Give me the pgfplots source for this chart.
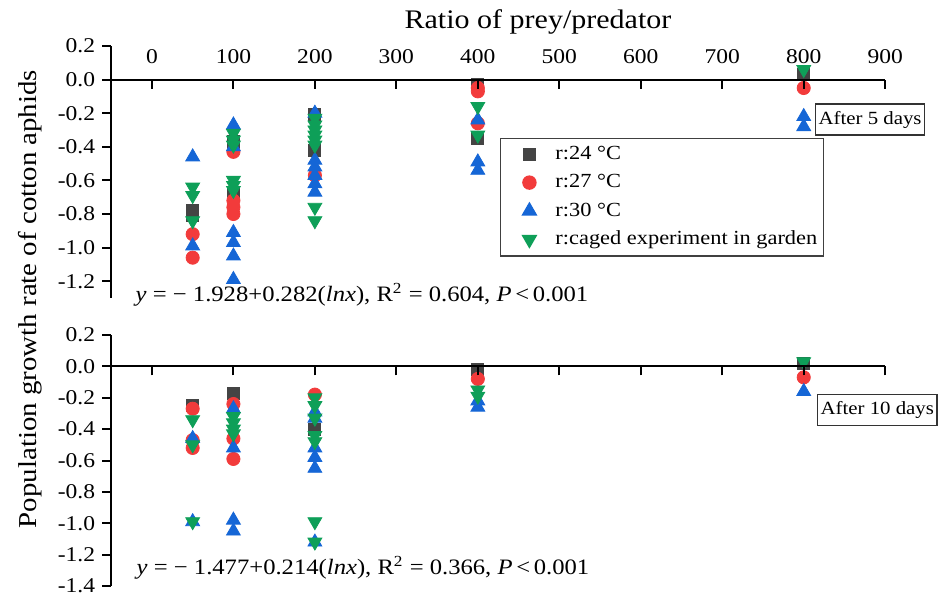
\documentclass[border=0pt]{standalone}
\usepackage{pgfplots}
\pgfplotsset{compat=1.18}
\usepackage{fontspec}
\setmainfont{Liberation Serif}[FakeStretch=1.12]

\definecolor{cA}{HTML}{444444}
\definecolor{cB}{HTML}{F23B3B}
\definecolor{cC}{HTML}{1566D6}
\definecolor{cD}{HTML}{0E9F58}

\pgfplotsset{
  common/.style={
    scale only axis, width=387pt,
    xmin=-50, xmax=900,
    major tick length=4.5pt,
    tick style={black, line width=1pt},
    tick label style={font=\fontsize{10.5}{12}\selectfont},
    /pgf/number format/assume math mode=true,
    clip=false,
  },
  panel/.style={common,
    axis y line=left, axis x line=none,
    axis line style={-, line width=1pt, black},
    ytick align=outside,
    y tick label style={/pgf/number format/.cd, fixed, fixed zerofill, precision=1, /tikz/.cd},
  },
  % x axis drawn along y = 0: the grid lines of a 4.5pt high axis are the ticks
  zeroline/.style={common,
    height=4.5pt, ymin=0, ymax=1,
    axis x line=top, axis y line=none,
    axis line style={-, line width=1pt, black},
    xtick={0,100,...,900}, xtick style={draw=none},
    xticklabel pos=upper,
    xmajorgrids, major grid style={black, line width=1pt},
  },
  sA/.style={only marks, mark=square*, mark size=3pt, color=cA},
  sB/.style={only marks, mark=*, mark size=3.3pt, color=cB},
  sC/.style={only marks, mark=triangle*, mark size=4pt, color=cC},
  sD/.style={only marks, mark=triangle*, mark size=4pt, mark options={rotate=180}, color=cD},
}

\begin{document}
\begin{tikzpicture}
% upper panel: after 5 days
\begin{axis}[panel,
  at={(55.6pt,148.5pt)}, anchor=south west, height=126pt,
  ymin=-1.3, ymax=0.2,
  ytick={-1.2,-1,-0.8,-0.6,-0.4,-0.2,0,0.2},
  legend cell align=left,
  legend image code/.code={\path[draw=none,fill=none] (-13.5pt,0pt) -- (11pt,0pt); \draw[#1] plot coordinates {(0pt,0pt)};},
  legend style={at={(axis cs:427,-0.345)}, anchor=north west, inner xsep=1pt,
    draw=black!75, line width=0.6pt, font=\fontsize{10}{12}\selectfont, row sep=2pt},
]
\addplot[sA] coordinates {(50,-0.78) (50,-0.81) (100,-0.37) (100,-0.40) (100,-0.68)
  (200,-0.21) (200,-0.42) (400,-0.03) (400,-0.35) (800,0.03)};
\addplot[sB] coordinates {(50,-0.92) (50,-1.06) (100,-0.43) (100,-0.72) (100,-0.76) (100,-0.80)
  (200,-0.57) (400,-0.05) (400,-0.07) (400,-0.26) (800,-0.05)};
\addplot[sC] coordinates {(50,-0.46) (50,-0.99) (100,-0.27) (100,-0.40) (100,-0.91) (100,-0.97)
  (100,-1.05) (100,-1.19) (200,-0.20) (200,-0.48) (200,-0.52) (200,-0.57) (200,-0.62)
  (200,-0.67) (400,-0.24) (400,-0.49) (400,-0.54) (800,-0.22) (800,-0.28)};
\addplot[sD] coordinates {(50,-0.64) (50,-0.69) (50,-0.84) (100,-0.32) (100,-0.36) (100,-0.39)
  (100,-0.60) (100,-0.63) (100,-0.66) (200,-0.23) (200,-0.27) (200,-0.30) (200,-0.33)
  (200,-0.36) (200,-0.39) (200,-0.76) (200,-0.84) (400,-0.16) (400,-0.33) (800,0.06)};
\legend{r:24 °C, r:27 °C, r:30 °C, r:caged experiment in garden}
\end{axis}
\begin{axis}[zeroline, at={(55.6pt,257.7pt)}, anchor=north west,
  xticklabel style={yshift=2pt}]
\end{axis}

% lower panel: after 10 days
\begin{axis}[panel,
  at={(55.6pt,4.5pt)}, anchor=south west, height=125.5pt,
  ymin=-1.4, ymax=0.2,
  ytick={-1.4,-1.2,-1,-0.8,-0.6,-0.4,-0.2,0,0.2},
]
\addplot[sA] coordinates {(50,-0.25) (100,-0.17) (200,-0.40) (400,-0.02) (800,0.02)};
\addplot[sB] coordinates {(50,-0.27) (50,-0.47) (50,-0.52) (100,-0.24) (100,-0.46) (100,-0.59)
  (200,-0.18) (400,-0.08) (800,-0.07)};
\addplot[sC] coordinates {(50,-0.46) (50,-0.99) (100,-0.27) (100,-0.52) (100,-0.98) (100,-1.05)
  (200,-0.29) (200,-0.33) (200,-0.52) (200,-0.58) (200,-0.65) (200,-1.12)
  (400,-0.22) (400,-0.26) (800,-0.16)};
\addplot[sD] coordinates {(50,-0.34) (50,-0.50) (50,-0.99) (100,-0.32) (100,-0.36) (100,-0.40)
  (100,-0.43) (200,-0.20) (200,-0.25) (200,-0.33) (200,-0.44) (200,-0.48) (200,-0.99)
  (200,-1.12) (400,-0.15) (400,-0.19) (800,0.03)};
\end{axis}
\begin{axis}[zeroline, at={(55.6pt,114.3pt)}, anchor=north west, xticklabels={}]
\end{axis}

\node[font=\fontsize{13.4}{15}\selectfont] at (269pt,286.5pt) {Ratio of prey/predator};
\node[rotate=90, font=\fontsize{12.9}{15}\selectfont] at (15pt,148pt) {Population growth rate of cotton aphids};
\node[font=\fontsize{11}{13}\selectfont] at (181pt,150pt)
  {\textit{y} = − 1.928+0.282(\textit{lnx}), R\textsuperscript{2} = 0.604, \textit{P}\,<\,0.001};
\node[font=\fontsize{11}{13}\selectfont] at (181.5pt,13.5pt)
  {\textit{y} = − 1.477+0.214(\textit{lnx}), R\textsuperscript{2} = 0.366, \textit{P}\,<\,0.001};
\node[draw=black!80, line width=0.6pt, anchor=west, inner xsep=1.5pt, minimum height=15.5pt,
  font=\fontsize{9.3}{11}\selectfont] at (407.5pt,237.75pt) {After 5 days};
\node[draw=black!80, line width=0.6pt, anchor=west, inner xsep=1.5pt, minimum height=15.5pt,
  font=\fontsize{9.3}{11}\selectfont] at (408.5pt,92.5pt) {After 10 days};

\pgfresetboundingbox
\path[use as bounding box] (0pt,0pt) rectangle (470.5pt,297.5pt);
\end{tikzpicture}
\end{document}
